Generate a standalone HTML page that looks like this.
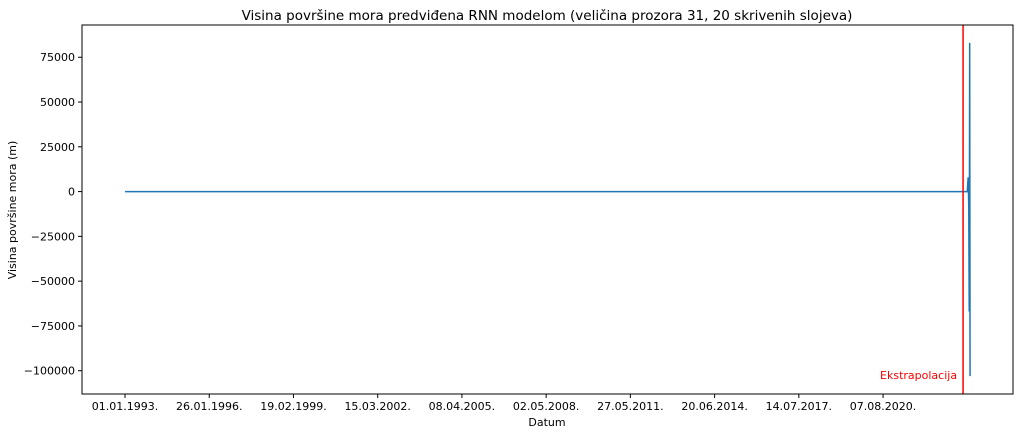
<!DOCTYPE html>
<html><head><meta charset="utf-8"><style>
body{margin:0;background:#fff;font-family:"Liberation Sans","DejaVu Sans",sans-serif}
svg text{font-family:"DejaVu Sans","Liberation Sans",sans-serif}
</style></head><body>
<svg id="chart" width="1020" height="435" xmlns="http://www.w3.org/2000/svg">
<rect width="1020" height="435" fill="#fff"/>
<text x="547" y="20" font-size="13.5" text-anchor="middle">Visina površine mora predviđena RNN modelom (veličina prozora 31, 20 skrivenih slojeva)</text>
<g id="plot"></g>
<rect x="82" y="25" width="931" height="369" fill="none" stroke="#000" stroke-width="1"/>
<text x="547" y="426" font-size="11" text-anchor="middle">Datum</text>
<text transform="translate(16,210) rotate(-90)" font-size="11" text-anchor="middle">Visina površine mora (m)</text>
</svg>
<script>
const xTickDays=[0,1120,2240,3360,4480,5600,6720,7840,8960,10080];
const xTickLabels=["01.01.1993.","26.01.1996.","19.02.1999.","15.03.2002.","08.04.2005.","02.05.2008.","27.05.2011.","20.06.2014.","14.07.2017.","07.08.2020."];
const yTicks=[-100000,-75000,-50000,-25000,0,25000,50000,75000];
const histDays=[0,2000,4000,6000,8000,10000,11144];
const histValues=[0,0,0,0,0,0,0];
const extraDays=[11144,11200,11212,11220,11226,11232,11237];
const extraValues=[0,0,8000,-9000,-67000,83000,-103000];
const extrapolationDay=11144;

const X0=82,X1=1013,Y0=394,Y1=25;
const dMin=-572,dMax=11808,vMin=-113000,vMax=93000;
const xs=d=>X0+(d-dMin)/(dMax-dMin)*(X1-X0);
const ys=v=>Y0-(v-vMin)/(vMax-vMin)*(Y0-Y1);
const NS="http://www.w3.org/2000/svg";
const g=document.getElementById('plot');
function mk(t,a){const e=document.createElementNS(NS,t);for(const k in a)e.setAttribute(k,a[k]);g.appendChild(e);return e;}
xTickDays.forEach((d,i)=>{
  const l=mk('line',{x1:xs(d),x2:xs(d),y1:Y0,y2:Y0+4,stroke:'#000'});
  
  
  const t=mk('text',{x:xs(d),y:Y0+16,'font-size':11,'text-anchor':'middle'});
  t.textContent=xTickLabels[i];
  
  
});
yTicks.forEach(v=>{
  const l=mk('line',{x1:X0-4,x2:X0,y1:ys(v),y2:ys(v),stroke:'#000'});
  
  
  const t=mk('text',{x:X0-7,y:ys(v)+4,'font-size':11,'text-anchor':'end'});
  t.textContent=v<0?'\u2212'+(-v):String(v);
  
  
});
const pts=histDays.map((d,i)=>xs(d)+','+ys(histValues[i])).concat(extraDays.map((d,i)=>xs(d)+','+ys(extraValues[i])));
const line=mk('polyline',{points:pts.join(' '),fill:'none',stroke:'#1f77b4','stroke-width':1.5});


const rl=mk('line',{x1:xs(extrapolationDay),x2:xs(extrapolationDay),y1:Y1,y2:Y0,stroke:'red','stroke-width':1.5});


const rt=mk('text',{x:xs(extrapolationDay)-6,y:379,'font-size':11,'text-anchor':'end',fill:'red'});
rt.textContent='Ekstrapolacija';


</script>
</body></html>
